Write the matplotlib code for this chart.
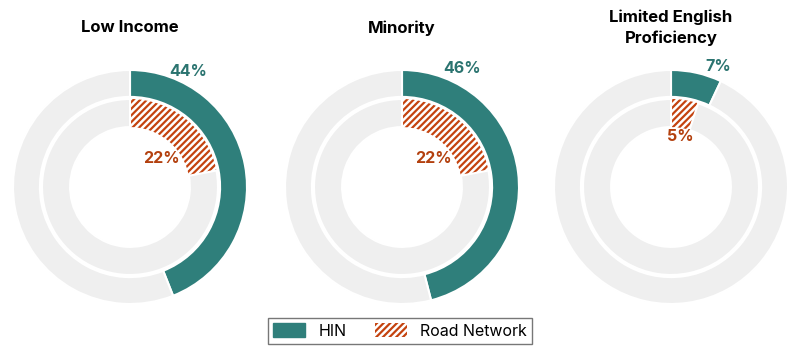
import numpy as np
import matplotlib.pyplot as plt
from matplotlib.patches import Patch

plt.rcParams['font.family'] = ['Inter', 'DejaVu Sans']
plt.rcParams['hatch.linewidth'] = 1.6

titles = ['Low Income', 'Minority', 'Limited English\nProficiency']
hin = [44, 46, 7]
road = [22, 22, 5]
# label offsets (x, y) in pie units
hin_lbl = [(0.50, 0.99), (0.51, 1.01), (0.40, 1.03)]
road_lbl = [(0.27, 0.24), (0.27, 0.24), (0.08, 0.43)]

teal = '#2f7f7b'
orange = '#c4430f'
grey = '#efefef'
teal_txt = '#2b7470'
orange_txt = '#b3400e'

fig = plt.figure(figsize=(8, 3.51), dpi=100)
centers = [130, 402, 671]
R = 117.0
half = 125.0
cy = 187

for i in range(3):
    cx = centers[i]
    ax = fig.add_axes([(cx - half) / 800, (351 - cy - half) / 351,
                       2 * half / 800, 2 * half / 351])

    w1, _ = ax.pie([hin[i], 100 - hin[i]], radius=1.0, startangle=90,
                   counterclock=False, colors=[teal, grey],
                   wedgeprops=dict(width=0.23, edgecolor='white', linewidth=1.5))
    w2, _ = ax.pie([road[i], 100 - road[i]], radius=0.752, startangle=90,
                   counterclock=False, colors=['white', grey],
                   wedgeprops=dict(width=0.24, edgecolor='white', linewidth=1.5))
    w2[0].set_hatch('/////')
    w2[0].set_edgecolor(orange)
    w2[0].set_linewidth(0)
    w2[1].set_zorder(3)

    lim = half / R
    ax.set_xlim(-lim, lim)
    ax.set_ylim(-lim, lim)
    ax.set_aspect('equal')
    ax.axis('off')

    ax.text(hin_lbl[i][0], hin_lbl[i][1], f'{hin[i]}%', color=teal_txt,
            fontsize=11.5, fontweight='bold', ha='center', va='center',
            zorder=5)
    ax.text(road_lbl[i][0], road_lbl[i][1], f'{road[i]}%', color=orange_txt,
            fontsize=11.5, fontweight='bold', ha='center', va='center',
            zorder=5)
    fig.text(cx / 800, 1 - 28 / 351, titles[i],
             ha='center', va='center', fontsize=12, fontweight='bold',
             linespacing=1.45)

handles = [Patch(facecolor=teal, edgecolor=teal, label='HIN'),
           Patch(facecolor='white', edgecolor=orange, hatch='/////',
                 linewidth=0, label='Road Network')]
leg = fig.legend(handles=handles, loc='center', bbox_to_anchor=(0.5, 1 - 331 / 351),
                 ncol=2, frameon=True, fancybox=False, fontsize=11.5,
                 handlelength=2.0, handleheight=0.9, columnspacing=1.8,
                 borderpad=0.35)
leg.get_frame().set_edgecolor('#555555')
leg.get_frame().set_linewidth(1.0)

fig.savefig('out.png', dpi=100)
